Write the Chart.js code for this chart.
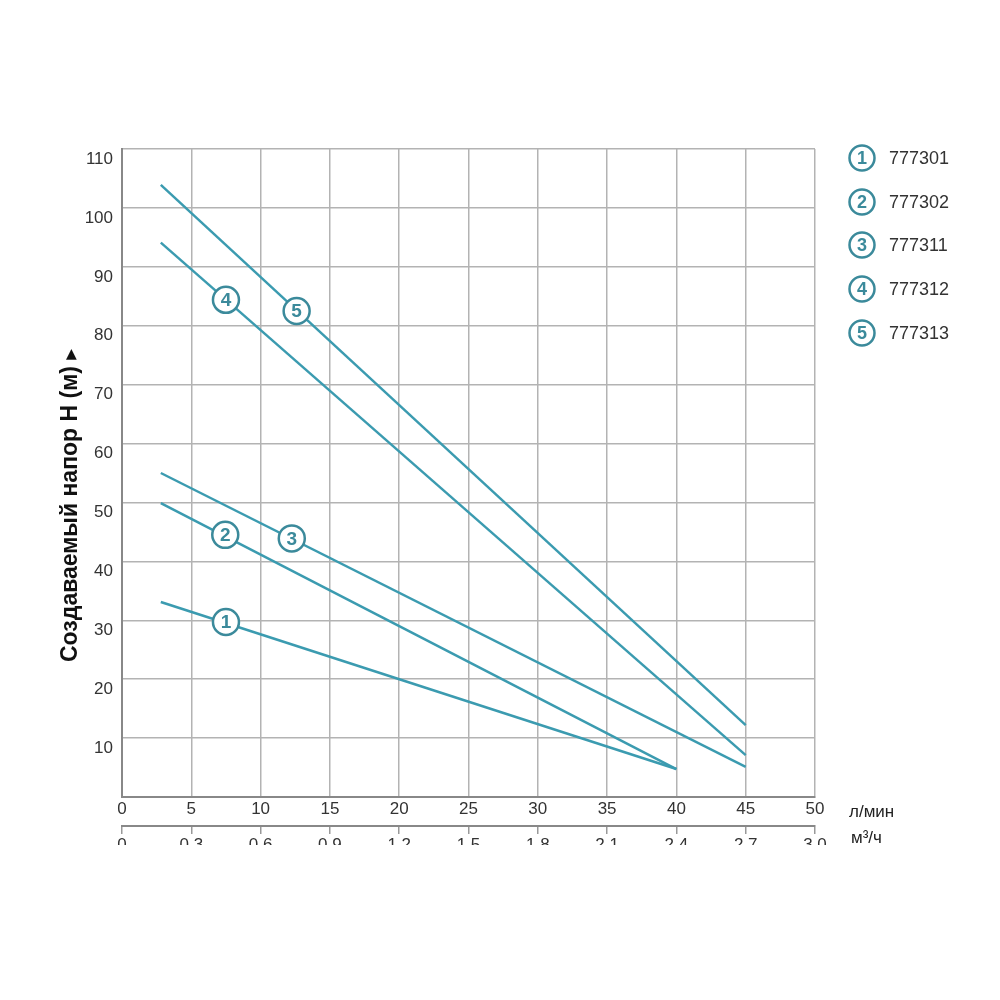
<!DOCTYPE html>
<html>
<head>
<meta charset="utf-8">
<script src="https://cdn.jsdelivr.net/npm/chart.js@4.4.0/dist/chart.umd.min.js"></script>
<style>
html,body{margin:0;padding:0;background:#fff;}
#wrap{position:relative;width:1000px;height:1000px;}
</style>
</head>
<body>
<div id="wrap"><canvas id="c" width="1000" height="1000"></canvas></div>
<script>
// ---- data (flow in л/мин, head in м) ----
const line1X = [2.8, 40];  const line1Y = [33.1, 4.75];
const line2X = [2.8, 40];  const line2Y = [49.9, 4.75];
const line3X = [2.8, 45];  const line3Y = [55.0, 5.1];
const line4X = [2.8, 45];  const line4Y = [94.1, 7.1];
const line5X = [2.8, 45];  const line5Y = [103.9, 12.2];

const markerLabels = ['1', '2', '3', '4', '5'];
const markerX = [7.5, 7.45, 12.25, 7.5, 12.6];
const markerY = [29.7, 44.5, 43.9, 84.4, 82.5];

const legendCodes = ['777301', '777302', '777311', '777312', '777313'];
const m3Labels = ['0', '0.3', '0.6', '0.9', '1.2', '1.5', '1.8', '2.1', '2.4', '2.7', '3.0'];
const yTitle = 'Создаваемый напор Н (м)';
const yArrow = '▶';
const unitLmin = 'л/мин';
const unitM3 = 'м³/ч';

const TEAL = '#3b9bb0';
const TEAL_D = '#3b8a9b';
const GRID = '#b3b3b3';
const FONT = '"Liberation Sans", Arial, sans-serif';

function pts(xs, ys) { return xs.map((x, i) => ({x: x, y: ys[i]})); }
const lines = [[line1X, line1Y], [line2X, line2Y], [line3X, line3Y], [line4X, line4Y], [line5X, line5Y]];

const datasets = [{
  label: 'markers',
  data: pts(markerX, markerY),
  showLine: false,
  pointRadius: 13,
  pointHoverRadius: 13,
  pointBackgroundColor: '#fff',
  pointBorderColor: TEAL_D,
  pointBorderWidth: 2.5,
  order: 0
}];
lines.forEach((l, i) => datasets.push({
  label: legendCodes[i],
  data: pts(l[0], l[1]),
  showLine: true,
  borderColor: TEAL,
  borderWidth: 2.5,
  pointRadius: 0,
  fill: false,
  order: 1
}));

const deco = {
  id: 'deco',
  afterDatasetsDraw(chart) {
    const ctx = chart.ctx;
    const meta = chart.getDatasetMeta(0);
    ctx.save();
    ctx.fillStyle = TEAL_D;
    ctx.font = 'bold 19px ' + FONT;
    ctx.textAlign = 'center';
    ctx.textBaseline = 'middle';
    meta.data.forEach((pt, i) => ctx.fillText(markerLabels[i], pt.x, pt.y + 1));
    ctx.restore();
  },
  afterDraw(chart) {
    const ctx = chart.ctx;
    ctx.save();
    // clip lower part of m3/h labels like the reference
    ctx.fillStyle = '#fff';
    ctx.fillRect(95, 845, 740, 30);
    // y title
    ctx.translate(71, 662);
    ctx.rotate(-Math.PI / 2);
    ctx.fillStyle = '#111';
    ctx.font = 'bold 23px ' + FONT;
    ctx.textAlign = 'left';
    ctx.textBaseline = 'middle';
    ctx.fillText(yTitle, 0, 0);
    const w = ctx.measureText(yTitle + ' ').width;
    ctx.font = '14px "DejaVu Sans", sans-serif';
    ctx.fillText(yArrow, w, 0);
    ctx.restore();
    // units
    ctx.save();
    ctx.fillStyle = '#222';
    ctx.font = '17px ' + FONT;
    ctx.textAlign = 'left';
    ctx.textBaseline = 'middle';
    ctx.fillText(unitLmin, 849, 812);
    ctx.fillText(unitM3, 851, 838);
    // legend
    const ys = [158, 202, 245, 289, 333];
    legendCodes.forEach((code, i) => {
      ctx.beginPath();
      ctx.arc(862, ys[i], 12.5, 0, Math.PI * 2);
      ctx.fillStyle = '#fff';
      ctx.fill();
      ctx.lineWidth = 2.5;
      ctx.strokeStyle = TEAL_D;
      ctx.stroke();
      ctx.fillStyle = TEAL_D;
      ctx.font = 'bold 18px ' + FONT;
      ctx.textAlign = 'center';
      ctx.fillText(markerLabels[i], 862, ys[i] + 1);
      ctx.fillStyle = '#333';
      ctx.font = '18px ' + FONT;
      ctx.textAlign = 'left';
      ctx.fillText(code, 889, ys[i] + 1);
    });
    ctx.restore();
  }
};

new Chart(document.getElementById('c'), {
  type: 'scatter',
  data: { datasets: datasets },
  options: {
    responsive: false,
    animation: false,
    events: [],
    layout: { padding: { left: 0, right: 185, top: 149, bottom: 144 } },
    plugins: { legend: { display: false }, tooltip: { enabled: false } },
    scales: {
      x: {
        type: 'linear', position: 'bottom', min: 0, max: 50,
        afterFit(s) { s.height = 29; },
        ticks: { stepSize: 5, color: '#333', padding: 2, font: { family: FONT, size: 17 } },
        grid: { color: GRID, lineWidth: 1.5, drawTicks: false },
        border: { color: '#888', width: 2 }
      },
      x2: {
        type: 'linear', position: 'bottom', min: 0, max: 3.0,
        afterFit(s) { s.height = 30; },
        afterBuildTicks(s) { s.ticks = m3Labels.map((l, i) => ({ value: i * 0.3 })); },
        ticks: {
          stepSize: 0.3, color: '#333', padding: 1, autoSkip: false, maxRotation: 0,
          font: { family: FONT, size: 17 },
          callback: (v, i) => m3Labels[i]
        },
        grid: { drawOnChartArea: false, drawTicks: true, tickLength: 8, color: '#999', lineWidth: 1.5 },
        border: { color: '#888', width: 2 }
      },
      y: {
        min: 0, max: 110,
        afterFit(s) { s.width = 122; },
        ticks: {
          stepSize: 10, color: '#333', padding: 9, labelOffset: 10,
          font: { family: FONT, size: 17 },
          callback: v => (v === 0 ? '' : v)
        },
        grid: { color: GRID, lineWidth: 1.5, drawTicks: false },
        border: { color: '#888', width: 2 }
      }
    }
  },
  plugins: [deco]
});
</script>
</body>
</html>
